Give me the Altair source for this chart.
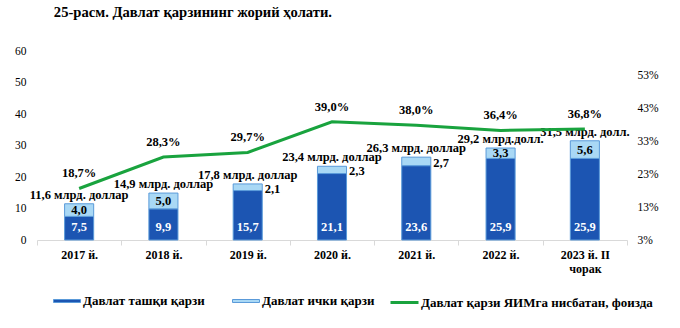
import altair as alt
import pandas as pd

# ---- data ----
years = ["2017 й.", "2018 й.", "2019 й.", "2020 й.", "2021 й.", "2022 й.", "2023 й. II чорак"]
external = [7.5, 9.9, 15.7, 21.1, 23.6, 25.9, 25.9]
domestic = [4.0, 5.0, 2.1, 2.3, 2.7, 3.3, 5.6]
totals = [11.6, 14.9, 17.8, 23.4, 26.3, 29.2, 31.5]
total_units = ["млрд. доллар", "млрд. доллар", "млрд. доллар", "млрд. доллар",
               "млрд. доллар", "млрд.долл.", "млрд. долл."]
debt_gdp = [18.7, 28.3, 29.7, 39.0, 38.0, 36.4, 36.8]

EXT = "Давлат ташқи қарзи"
DOM = "Давлат ички қарзи"
LINE = "Давлат қарзи ЯИМга нисбатан, фоизда"
TITLE = "25-расм. Давлат қарзининг жорий ҳолати."

DARK = "#1c55b2"
LIGHT = "#a9d8f5"
EDGE = "#5a9ad9"
GREEN = "#19a33e"
FONT = "Liberation Serif"


def fmt(v):
    return f"{v:.1f}".replace(".", ",")


df = pd.DataFrame({"year": years, "ext": external, "dom": domestic,
                   "total": totals, "unit": total_units, "pct": debt_gdp})
df["top"] = df["ext"] + df["dom"]
df["dom_mid"] = df["ext"] + df["dom"] / 2
df["zero"] = 0.0
df["ext_lbl"] = df["ext"].map(fmt)
df["dom_lbl"] = df["dom"].map(fmt)
df["tot_lbl"] = df["total"].map(fmt) + " " + df["unit"]
df["pct_lbl"] = df["pct"].map(fmt) + "%"
df["series"] = LINE

long = pd.DataFrame({
    "year": years * 2,
    "series": [EXT] * len(years) + [DOM] * len(years),
    "value": external + domestic,
    "order": [0] * len(years) + [1] * len(years),
})

x_axis = alt.Axis(
    title=None, labelAngle=0, tickBand="extent",
    labelExpr="datum.value == '2023 й. II чорак' ? ['2023 й. II', 'чорак'] : datum.value",
    labelFont=FONT, labelFontSize=12, labelFontWeight="bold", labelColor="black",
    labelLineHeight=14, labelPadding=4,
    domainColor="#d9d9d9", tickColor="#d9d9d9", tickSize=5, grid=False,
)
x_scale = alt.Scale(paddingInner=0, paddingOuter=0)


def X():
    return alt.X("year:N", sort=years, scale=x_scale, axis=x_axis)


y_scale = alt.Scale(domain=[0, 60], nice=False)
y_axis = alt.Axis(title=None, values=[0, 10, 20, 30, 40, 50, 60],
                  domain=False, ticks=False, grid=False,
                  labelFont=FONT, labelFontSize=11.5, labelColor="black",
                  labelPadding=11)

r_scale = alt.Scale(domain=[3, 60.6], nice=False, zero=False)
r_axis = alt.Axis(orient="right", title=None, values=[3, 13, 23, 33, 43, 53],
                  labelExpr="datum.value + '%'", domain=False, ticks=False,
                  grid=False, labelFont=FONT, labelFontSize=11.5,
                  labelColor="black", labelPadding=10)

bars = alt.Chart(long).mark_bar(
    width=alt.RelativeBandSize(0.345), stroke=EDGE, strokeWidth=1
).encode(
    x=X(),
    y=alt.Y("value:Q", stack="zero", scale=y_scale, axis=y_axis),
    color=alt.Color("series:N",
                    scale=alt.Scale(domain=[EXT, DOM], range=[DARK, LIGHT]),
                    legend=alt.Legend(
                        orient="none", legendX=16, legendY=236, direction="horizontal",
                        title=None, padding=0,
                        symbolType="M-1,-0.11H1V0.11H-1Z", symbolSize=729,
                        symbolStrokeColor=EDGE, symbolStrokeWidth=1,
                        labelFont=FONT, labelFontSize=13, labelFontWeight="bold",
                        labelColor="black", labelOffset=2, columnPadding=25,
                        labelLimit=0,
                    )),
    order=alt.Order("order:Q"),
)

txt = dict(font=FONT, fontSize=12.5, fontWeight="bold")

ext_text = alt.Chart(df).mark_text(color="white", baseline="middle", dy=-13, **txt).encode(
    x=X(), y=alt.Y("zero:Q", scale=y_scale, axis=y_axis), text="ext_lbl:N")

dom_in = alt.Chart(df).transform_filter("datum.dom >= 3").mark_text(
    color="black", baseline="middle", **txt).encode(
    x=X(), y=alt.Y("dom_mid:Q", scale=y_scale, axis=y_axis), text="dom_lbl:N")

dom_out = alt.Chart(df).transform_filter("datum.dom < 3").mark_text(
    color="black", baseline="middle", align="left", dx=17, dy=1.5, **txt).encode(
    x=X(), y=alt.Y("dom_mid:Q", scale=y_scale, axis=y_axis), text="dom_lbl:N")

tot_text = alt.Chart(df).mark_text(color="black", baseline="alphabetic", dy=-5, **txt).encode(
    x=X(), y=alt.Y("top:Q", scale=y_scale, axis=y_axis), text="tot_lbl:N")

left = alt.layer(bars, ext_text, dom_in, dom_out, tot_text)

line = alt.Chart(df).mark_line(strokeWidth=3).encode(
    x=X(),
    y=alt.Y("pct:Q", scale=r_scale, axis=r_axis),
    stroke=alt.Stroke("series:N", scale=alt.Scale(domain=[LINE], range=[GREEN]),
                      legend=alt.Legend(
                          orient="none", legendX=352, legendY=236, title=None, padding=0,
                          symbolType="stroke", symbolSize=784, symbolStrokeWidth=3,
                          labelFont=FONT, labelFontSize=13, labelFontWeight="bold",
                          labelColor="black", labelOffset=1, labelLimit=0,
                      )),
)

pct_text = alt.Chart(df).mark_text(color="black", baseline="middle", dy=-15, **txt).encode(
    x=X(), y=alt.Y("pct:Q", scale=r_scale, axis=r_axis), text="pct_lbl:N")

right = alt.layer(line, pct_text)

chart = alt.layer(left, right).resolve_scale(y="independent").properties(
    width=590, height=189,
    title=alt.TitleParams(TITLE, anchor="middle", align="right", frame="group", offset=13,
                          baseline="alphabetic", font=FONT, fontSize=14.6,
                          fontWeight="bold", color="black"),
    autosize=alt.AutoSizeParams(type="none"),
    padding={"left": 37, "top": 51, "right": 53, "bottom": 88},
).configure_view(stroke=None)

chart.save("out.html", embed_options={"renderer": "svg", "actions": False})
